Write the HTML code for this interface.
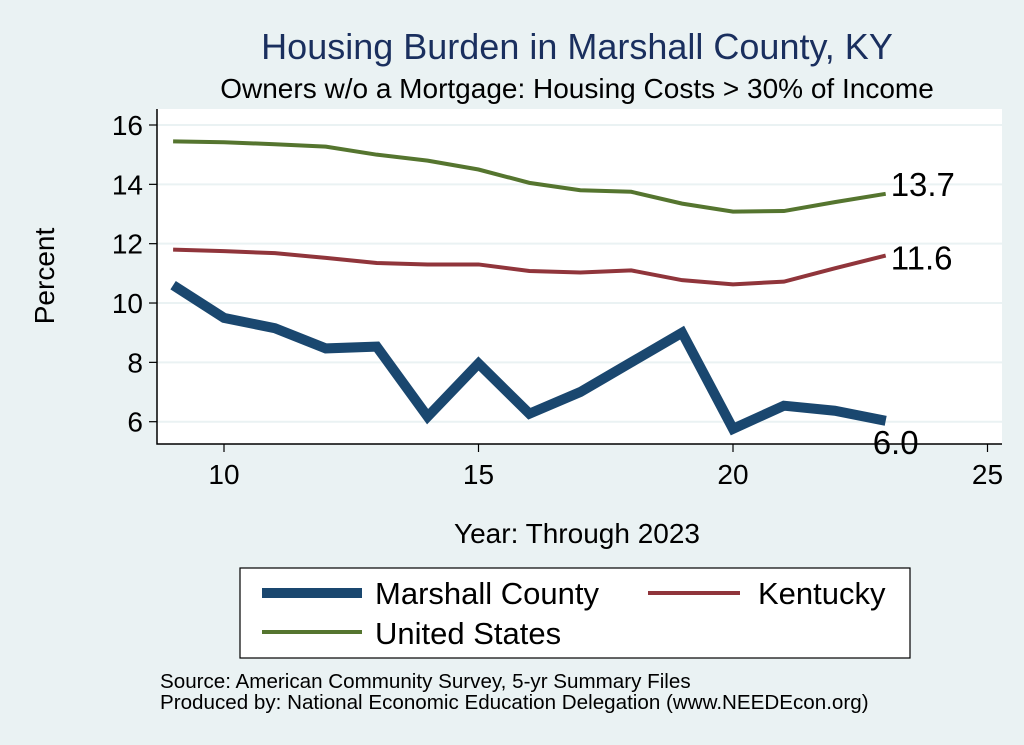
<!DOCTYPE html>
<html><head><meta charset="utf-8"><style>
body{margin:0;background:#eaf2f3;}
svg{display:block;font-family:"Liberation Sans",sans-serif;}
</style></head><body>
<svg id="c" width="1024" height="745">
<rect x="0" y="0" width="1024" height="745" fill="#eaf2f3"/>
<text x="577" y="59" font-size="36" fill="#1a2f5e" text-anchor="middle">Housing Burden in Marshall County, KY</text>
<text x="577" y="98" font-size="28" fill="#000" text-anchor="middle">Owners w/o a Mortgage: Housing Costs &gt; 30% of Income</text>
<rect x="157" y="109" width="845" height="335" fill="#fff"/>
<g id="grid"></g><g id="axes"></g><g id="lines"></g>
<text transform="translate(54,276) rotate(-90)" font-size="28" text-anchor="middle">Percent</text>
<text x="577" y="543" font-size="28" text-anchor="middle">Year: Through 2023</text>
<g>
<rect x="240" y="568" width="670" height="90" fill="#fff" stroke="#000" stroke-width="1.2"/>
<line x1="262" y1="593" x2="362" y2="593" stroke="#1a476f" stroke-width="10"/>
<text x="375" y="604" font-size="31">Marshall County</text>
<line x1="648" y1="593" x2="740" y2="593" stroke="#90353b" stroke-width="4"/>
<text x="758" y="604" font-size="31">Kentucky</text>
<line x1="262" y1="632" x2="362" y2="632" stroke="#55752f" stroke-width="4"/>
<text x="375" y="644" font-size="31">United States</text>
</g>
<text x="160" y="688" font-size="20.6">Source: American Community Survey, 5-yr Summary Files</text>
<text x="160" y="709" font-size="20.6">Produced by: National Economic Education Delegation (www.NEEDEcon.org)</text>
</svg>
<script>
const years=[9,10,11,12,13,14,15,16,17,18,19,20,21,22,23];
const usVals=[15.45,15.42,15.35,15.27,15.0,14.8,14.5,14.05,13.8,13.75,13.35,13.08,13.1,13.4,13.68];
const kyVals=[11.8,11.75,11.68,11.52,11.35,11.3,11.3,11.08,11.03,11.1,10.77,10.63,10.72,11.17,11.6];
const mcVals=[10.6,9.5,9.15,8.47,8.53,6.17,7.96,6.27,7.0,8.0,9.0,5.76,6.54,6.37,6.03];
const xTicks=[10,15,20,25];
const yTicks=[6,8,10,12,14,16];
const endLabels=["13.7","11.6","6.0"];
const NS="http://www.w3.org/2000/svg";
const xs=v=>224+(v-10)*50.9;
const ys=v=>421.7-(v-6)*29.67;
function mk(t,a,p){const e=document.createElementNS(NS,t);for(const k in a)e.setAttribute(k,a[k]);document.getElementById(p).appendChild(e);return e;}
yTicks.forEach(v=>{
 const g=mk('line',{x1:157,x2:1002,y1:ys(v),y2:ys(v),stroke:'#eaf2f3','stroke-width':2},'grid');
 
 
 const t=mk('line',{x1:149,x2:157,y1:ys(v),y2:ys(v),stroke:'#000','stroke-width':1.2},'axes');
 
 
 const l=mk('text',{x:143,y:ys(v)+10,'font-size':28,'text-anchor':'end'},'axes');l.textContent=v;
 
 
});
xTicks.forEach(v=>{
 const t=mk('line',{x1:xs(v),x2:xs(v),y1:444,y2:452,stroke:'#000','stroke-width':1.2},'axes');
 
 
 const l=mk('text',{x:xs(v),y:484,'font-size':28,'text-anchor':'middle'},'axes');l.textContent=v;
 
 
});
const ax=mk('path',{d:'M157,109 V444 H1002',fill:'none',stroke:'#000','stroke-width':1.5},'axes');


const series=[[usVals,'#55752f',4,'us-line'],[kyVals,'#90353b',4,'kentucky-line'],[mcVals,'#1a476f',10,'marshall-line']];
const dys=[2,14,33];
series.forEach(([vals,c,w,n],i)=>{
 const p=mk('polyline',{points:vals.map((v,j)=>xs(years[j])+','+ys(v)).join(' '),fill:'none',stroke:c,'stroke-width':w,'stroke-linejoin':'miter'},'lines');
 
 
 const last=vals[vals.length-1];
 const t=mk('text',{x:xs(years[years.length-1])+(i==2?-13:5),y:ys(last)+dys[i],'font-size':33},'lines');
 t.textContent=endLabels[i];
 
 
});
</script>
</body></html>
